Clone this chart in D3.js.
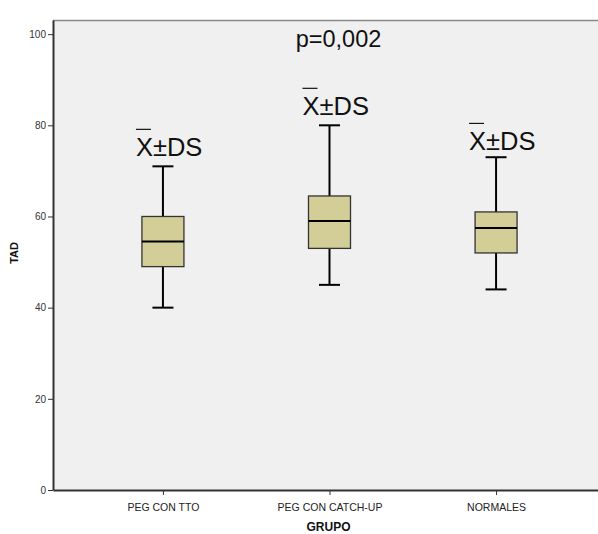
<!DOCTYPE html>
<html>
<head>
<meta charset="utf-8">
<script src="https://cdn.jsdelivr.net/npm/d3@7"></script>
<style>
  body { margin: 0; background: #fff; }
  text { font-family: "Liberation Sans", Arial, sans-serif; }
</style>
</head>
<body>
<div id="chart"></div>
<script>
// categories and box summaries
var grupos = ["PEG CON TTO", "PEG CON CATCH-UP", "NORMALES"];
var minimos = [40, 45, 44];
var q1s = [49, 53, 52];
var medianas = [54.5, 59, 57.5];
var q3s = [60, 64.5, 61];
var maximos = [71, 80, 73];
var yTicks = [0, 20, 40, 60, 80, 100];
var etiquetaY = [73.3, 82.3, 74.6]; // where the X±DS notes sit
var pValor = "p=0,002";

var W = 598, H = 534;
var margin = { top: 20, left: 53, bottom: 44 },
    plotRight = 606,
    bottomY = H - margin.bottom;

var svg = d3.select("#chart").append("svg")
    .attr("width", W)
    .attr("height", H);

var y = d3.scaleLinear()
    .domain([0, 103.1])
    .range([bottomY, margin.top]);

var x = d3.scalePoint()
    .domain(grupos)
    .range([margin.left, plotRight])
    .padding(0.66);

// plot background
svg.append("rect")
    .attr("x", margin.left)
    .attr("y", margin.top)
    .attr("width", plotRight - margin.left)
    .attr("height", bottomY - margin.top)
    .attr("fill", "#f0f0f0");

svg.append("line")
    .attr("x1", margin.left).attr("x2", plotRight)
    .attr("y1", margin.top + 0.5).attr("y2", margin.top + 0.5)
    .attr("stroke", "#8a8a8a")
    .attr("stroke-width", 1.5);

// y axis
var yAxis = svg.append("g")
    .attr("transform", "translate(" + margin.left + ",0)")
    .call(d3.axisLeft(y).tickValues(yTicks).tickSize(5).tickPadding(2).tickSizeOuter(0));
yAxis.select(".domain").attr("stroke", "#333").attr("stroke-width", 2);
yAxis.selectAll(".tick line").attr("stroke", "#333");
yAxis.selectAll("text")
    .attr("fill", "#333")
    .style("font-size", "10px");

// x axis
var xAxis = svg.append("g")
    .attr("transform", "translate(0," + bottomY + ")")
    .call(d3.axisBottom(x).tickSize(5).tickPadding(9).tickSizeOuter(0));
xAxis.select(".domain").attr("stroke", "#333").attr("stroke-width", 2);
xAxis.selectAll(".tick line").attr("stroke", "#333");
xAxis.selectAll("text")
    .attr("fill", "#222")
    .style("font-size", "10.5px");

// axis titles
svg.append("text")
    .attr("transform", "translate(18," + (y(52)) + ") rotate(-90)")
    .attr("text-anchor", "middle")
    .style("font-size", "11px")
    .style("font-weight", "bold")
    .attr("fill", "#111")
    .text("TAD");

svg.append("text")
    .attr("x", x(grupos[1]) - 1)
    .attr("y", 531)
    .attr("text-anchor", "middle")
    .style("font-size", "12px")
    .style("font-weight", "bold")
    .attr("fill", "#111")
    .text("GRUPO");

// boxes
var boxW = 42, capW = 21;
var datos = grupos.map(function (g, i) {
    return { g: g, min: minimos[i], q1: q1s[i], med: medianas[i], q3: q3s[i], max: maximos[i], lab: etiquetaY[i] };
});

var box = svg.selectAll(".box")
    .data(datos)
    .enter().append("g")
    .attr("class", "box");

box.append("line")
    .attr("x1", function (d) { return x(d.g); })
    .attr("x2", function (d) { return x(d.g); })
    .attr("y1", function (d) { return y(d.max); })
    .attr("y2", function (d) { return y(d.min); })
    .attr("stroke", "#000")
    .attr("stroke-width", 2);

box.append("line")
    .attr("x1", function (d) { return x(d.g) - capW / 2; })
    .attr("x2", function (d) { return x(d.g) + capW / 2; })
    .attr("y1", function (d) { return y(d.max); })
    .attr("y2", function (d) { return y(d.max); })
    .attr("stroke", "#000")
    .attr("stroke-width", 2);

box.append("line")
    .attr("x1", function (d) { return x(d.g) - capW / 2; })
    .attr("x2", function (d) { return x(d.g) + capW / 2; })
    .attr("y1", function (d) { return y(d.min); })
    .attr("y2", function (d) { return y(d.min); })
    .attr("stroke", "#000")
    .attr("stroke-width", 2);

box.append("rect")
    .attr("x", function (d) { return x(d.g) - boxW / 2; })
    .attr("width", boxW)
    .attr("y", function (d) { return y(d.q3); })
    .attr("height", function (d) { return y(d.q1) - y(d.q3); })
    .attr("fill", "#d3ce97")
    .attr("stroke", "#333")
    .attr("stroke-width", 1.3);

box.append("line")
    .attr("x1", function (d) { return x(d.g) - boxW / 2; })
    .attr("x2", function (d) { return x(d.g) + boxW / 2; })
    .attr("y1", function (d) { return y(d.med); })
    .attr("y2", function (d) { return y(d.med); })
    .attr("stroke", "#000")
    .attr("stroke-width", 2);

// X±DS notes, with a bar over the X
box.append("text")
    .attr("x", function (d) { return x(d.g) - 27; })
    .attr("y", function (d) { return y(d.lab); })
    .style("font-size", "25.5px")
    .attr("fill", "#111")
    .text("X±DS");

box.append("line")
    .attr("x1", function (d) { return x(d.g) - 27; })
    .attr("x2", function (d) { return x(d.g) - 12; })
    .attr("y1", function (d) { return y(d.lab) - 26.5; })
    .attr("y2", function (d) { return y(d.lab) - 26.5; })
    .attr("stroke", "#111")
    .attr("stroke-width", 1.2);

svg.append("text")
    .attr("x", x(grupos[1]) + 9)
    .attr("y", 47)
    .attr("text-anchor", "middle")
    .style("font-size", "23.5px")
    .attr("fill", "#111")
    .text(pValor);
</script>
</body>
</html>
